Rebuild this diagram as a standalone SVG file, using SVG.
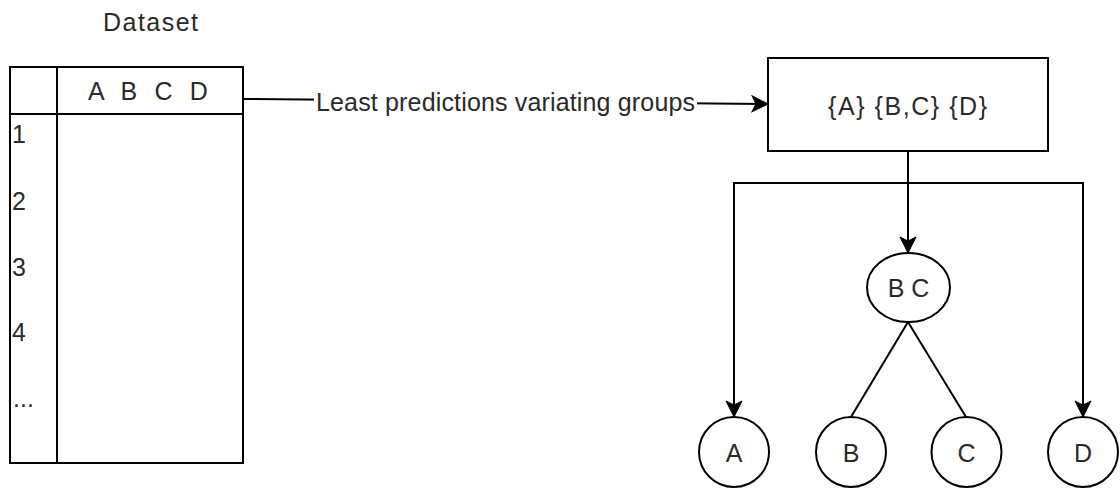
<svg xmlns="http://www.w3.org/2000/svg" width="1120" height="488" viewBox="0 0 1120 488">
  <style>
    .ln { fill: none; stroke: #000; stroke-width: 2; }
    .shape { fill: #fff; stroke: #000; stroke-width: 2; }
    .txt { font-family: "Liberation Sans", Arial, sans-serif; font-size: 25px; fill: #2a2a2a; }
    .mid { text-anchor: middle; }
  </style>
  <defs>
    <marker id="arrow" viewBox="-17 -9 18 18" refX="0" refY="0" markerWidth="18" markerHeight="18" markerUnits="userSpaceOnUse" orient="auto">
      <path d="M0,0 L-16,-8 L-12,0 L-16,8 Z" fill="#000" stroke="#000" stroke-width="1" stroke-linejoin="miter"/>
    </marker>
  </defs>

  <rect width="1120" height="488" fill="#fff"/>

  <!-- dataset table -->
  <g id="dataset">
    <text class="txt" x="103" y="31" textLength="95" lengthAdjust="spacing">Dataset</text>
    <rect class="shape" x="10" y="67" width="233" height="396"/>
    <line class="ln" x1="10" y1="114" x2="243" y2="114"/>
    <line class="ln" x1="57" y1="67" x2="57" y2="463"/>
    <text class="txt" x="88" y="100" word-spacing="10.3">A B C D</text>
    <text class="txt" x="12" y="143">1</text>
    <text class="txt" x="12" y="210">2</text>
    <text class="txt" x="12" y="276">3</text>
    <text class="txt" x="12" y="341">4</text>
    <text class="txt" x="13" y="407" font-size="20" fill="#666">...</text>
  </g>

  <!-- connectors -->
  <g id="connectors">
    <path class="ln" d="M243,99 L768,104" marker-end="url(#arrow)"/>
    <rect x="314" y="86" width="383" height="32" fill="#fff"/>
    <text class="txt" x="316" y="111" textLength="379" lengthAdjust="spacing">Least predictions variating groups</text>
    <path class="ln" d="M908,151 L908,253" marker-end="url(#arrow)"/>
    <path class="ln" d="M908,183 L734,183 L734,417" marker-end="url(#arrow)"/>
    <path class="ln" d="M908,183 L1083,183 L1083,417" marker-end="url(#arrow)"/>
    <path class="ln" d="M908,322 L851,417"/>
    <path class="ln" d="M908,322 L966,417"/>
  </g>

  <!-- grouping box -->
  <g id="groups">
    <rect class="shape" x="768" y="58" width="280" height="93"/>
    <text class="txt" x="828" y="115" textLength="159" lengthAdjust="spacing">{A} {B,C} {D}</text>
  </g>

  <g id="node-bc">
    <ellipse class="shape" cx="908.5" cy="287.5" rx="41.5" ry="34.5"/>
    <text class="txt mid" x="908.5" y="297">B C</text>
  </g>

  <g id="node-a">
    <circle class="shape" cx="734" cy="452" r="35"/>
    <text class="txt mid" x="734" y="462">A</text>
  </g>
  <g id="node-b">
    <circle class="shape" cx="851" cy="452" r="35"/>
    <text class="txt mid" x="851" y="462">B</text>
  </g>
  <g id="node-c">
    <circle class="shape" cx="966.5" cy="452" r="35"/>
    <text class="txt mid" x="966.5" y="462">C</text>
  </g>
  <g id="node-d">
    <circle class="shape" cx="1083" cy="452" r="35"/>
    <text class="txt mid" x="1083" y="462">D</text>
  </g>
</svg>
